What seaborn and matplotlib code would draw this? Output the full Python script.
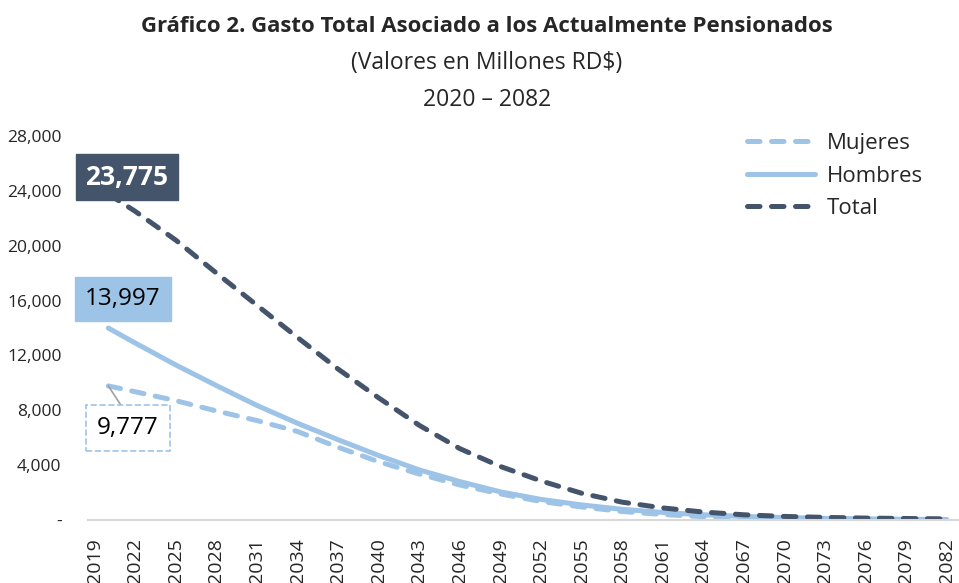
import matplotlib
matplotlib.use("Agg")
import matplotlib.pyplot as plt
import matplotlib.ticker as mticker
import seaborn as sns
import pandas as pd

years = [2020, 2022, 2025, 2028, 2031, 2034, 2037, 2040, 2043, 2046, 2049,
         2052, 2055, 2058, 2061, 2064, 2067, 2070, 2073, 2076, 2079, 2082]
total = [23775, 22500, 20400, 18000, 15650, 13300, 11000, 8900, 6900, 5200, 3900,
         2850, 1950, 1300, 880, 580, 380, 260, 190, 140, 110, 80]
hombres = [13997, 12900, 11300, 9800, 8350, 7050, 5850, 4700, 3650, 2800, 2050,
           1500, 1100, 780, 550, 380, 260, 180, 120, 80, 55, 35]
mujeres = [9777, 9350, 8700, 7950, 7250, 6450, 5300, 4250, 3350, 2550, 1900,
           1350, 950, 620, 400, 240, 150, 100, 70, 50, 40, 30]
tick_years = list(range(2019, 2083, 3))

LIGHT = "#9DC3E6"
DARK = "#44546A"

sns.set_style("white")
plt.rcParams['font.family'] = ['Open Sans', 'DejaVu Sans']

df = pd.DataFrame({"year": years, "Mujeres": mujeres, "Hombres": hombres, "Total": total})

fig = plt.figure(figsize=(9.59, 5.83), dpi=100)
ax = fig.add_axes([88 / 959, 1 - 520 / 583, 1 - 88 / 959, (520 - 136) / 583])

lw = 3.6
sns.lineplot(data=df, x="year", y="Mujeres", ax=ax, color=LIGHT, lw=lw,
             label="Mujeres", linestyle=(0, (2.5, 2.3)), dash_capstyle="round")
sns.lineplot(data=df, x="year", y="Hombres", ax=ax, color=LIGHT, lw=lw,
             label="Hombres", solid_capstyle="round")
sns.lineplot(data=df, x="year", y="Total", ax=ax, color=DARK, lw=lw,
             label="Total", linestyle=(0, (2.5, 2.3)), dash_capstyle="round")

ax.set_xlim(2018.5, 2082.9)
ax.set_ylim(0, 28000)
ax.set_xticks(tick_years)
ax.set_xticklabels([str(y) for y in tick_years], rotation=90, fontsize=14)
ax.set_yticks(range(0, 28001, 4000))
ax.yaxis.set_major_formatter(mticker.FuncFormatter(lambda v, p: "-" if v == 0 else f"{int(v):,}"))
ax.tick_params(axis="y", labelsize=12.5, pad=19, length=0)
ax.tick_params(axis="x", pad=13, length=0)
ax.set_xlabel("")
ax.set_ylabel("")
for s in ["top", "right", "left"]:
    ax.spines[s].set_visible(False)
ax.spines["bottom"].set_color("#D9D9D9")
ax.spines["bottom"].set_linewidth(1.5)

leg = ax.legend(loc="upper left", bbox_to_anchor=(727 / 959, 1 - 113 / 583),
                bbox_transform=fig.transFigure, frameon=False, fontsize=16,
                handlelength=3.05, handletextpad=0.55, labelspacing=0.52)

# data labels
ax.annotate(f"{total[0]:,}", xy=(years[0], total[0]), xytext=(127 / 959, 1 - 177 / 583),
            textcoords="figure fraction", ha="center", va="center", fontsize=19,
            fontweight="bold", color="white",
            bbox=dict(boxstyle="square,pad=0.35", fc=DARK, ec=DARK))
ax.annotate(f"{hombres[0]:,}", xy=(years[0], hombres[0]), xytext=(123 / 959, 1 - 299 / 583),
            textcoords="figure fraction", ha="center", va="center", fontsize=17.5,
            color="black",
            bbox=dict(boxstyle="square,pad=0.4", fc=LIGHT, ec=LIGHT))
ax.annotate(f"{mujeres[0]:,}", xy=(years[0], mujeres[0]), xytext=(128 / 959, 1 - 428 / 583),
            textcoords="figure fraction", ha="center", va="center", fontsize=17.5,
            color="black",
            bbox=dict(boxstyle="square,pad=0.45", fc="white", ec=LIGHT, ls="--", lw=1.2),
            arrowprops=dict(arrowstyle="-", color="#A0A0A0", lw=1.2, shrinkA=0, shrinkB=0,
                            relpos=(0.5, 1.0)))

fig.text(487 / 959, 1 - 27 / 583, "Gráfico 2. Gasto Total Asociado a los Actualmente Pensionados",
         ha="center", va="center", fontsize=16, fontweight="bold")
fig.text(487 / 959, 1 - 63 / 583, "(Valores en Millones RD$)", ha="center", va="center", fontsize=16.5)
fig.text(487 / 959, 1 - 100 / 583, "2020 – 2082", ha="center", va="center", fontsize=16.5)

fig.savefig("out.png", dpi=100)
